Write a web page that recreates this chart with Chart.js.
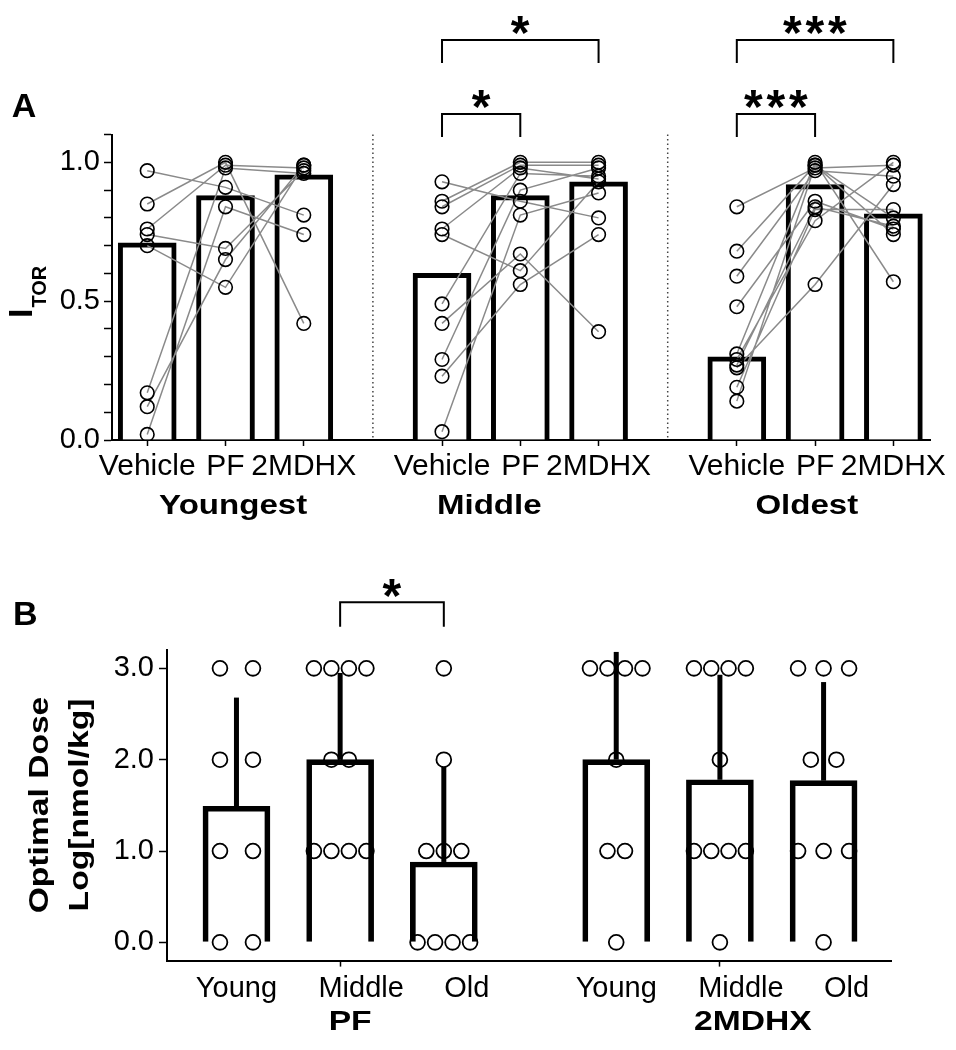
<!DOCTYPE html>
<html>
<head>
    <meta charset="UTF-8">
    <title>ITOR and optimal dose</title>
    <script src="https://cdn.jsdelivr.net/npm/chart.js"></script>
    <style>
        body { margin: 0; background: #fff; }
        #wrap { position: relative; width: 956px; height: 1050px; }
        #wrap canvas { position: absolute; left: 0; }
        #chartA { top: 0; }
        #chartB { top: 560px; }
    </style>
</head>
<body>
<div id="wrap">
    <canvas id="chartA" width="956" height="560"></canvas>
    <canvas id="chartB" width="956" height="490"></canvas>
</div>
<script>
    const FONT = '"Liberation Sans", Arial, Helvetica, sans-serif';

    // ---- Panel A: I_TOR per animal, medians as bars ----
    const treatments = ['Vehicle', 'PF', '2MDHX'];
    const ageGroups = ['Youngest', 'Middle', 'Oldest'];

    // one entry per animal, same index across treatments
    const youngestVehicle = [0.97, 0.85, 0.76, 0.74, 0.70, 0.17, 0.12, 0.02];
    const youngestPF      = [0.91, 1.00, 0.99, 0.69, 0.55, 0.98, 0.65, 0.84];
    const youngestMDHX    = [0.81, 0.42, 0.98, 0.97, 0.99, 0.96, 0.99, 0.74];

    const middleVehicle = [0.93, 0.86, 0.84, 0.76, 0.74, 0.49, 0.42, 0.29, 0.23, 0.03];
    const middlePF      = [0.86, 1.00, 0.99, 0.98, 0.61, 0.96, 0.67, 0.90, 0.56, 0.81];
    const middleMDHX    = [0.80, 1.00, 0.99, 0.94, 0.93, 0.95, 0.39, 0.98, 0.74, 0.89];

    const oldestVehicle = [0.84, 0.68, 0.59, 0.48, 0.31, 0.29, 0.26, 0.27, 0.19, 0.14];
    const oldestPF      = [0.98, 0.99, 0.97, 0.86, 1.00, 0.79, 0.56, 0.84, 0.83, 0.99];
    const oldestMDHX    = [0.99, 0.74, 0.95, 0.76, 0.57, 1.00, 0.92, 0.77, 0.83, 0.80];

    const youngestMedian = [0.71, 0.88, 0.955];
    const middleMedian   = [0.60, 0.88, 0.93];
    const oldestMedian   = [0.30, 0.92, 0.815];

    const itorTicks = [0, 0.1, 0.2, 0.3, 0.4, 0.5, 0.6, 0.7, 0.8, 0.9, 1.0, 1.1];
    const itorTickLabels = ['0.0', '0.5', '1.0'];

    // significance: group, from/to treatment, number of stars
    const sigA = [
        { group: 1, from: 0, to: 1, stars: 1 },
        { group: 1, from: 0, to: 2, stars: 1 },
        { group: 2, from: 0, to: 1, stars: 3 },
        { group: 2, from: 0, to: 2, stars: 3 }
    ];

    // ---- Panel B: optimal dose (log nmol/kg) ----
    const ages = ['Young', 'Middle', 'Old'];
    const drugs = ['PF', '2MDHX'];

    const pfYoung  = [0, 0, 1, 1, 2, 2, 3, 3];
    const pfMiddle = [1, 1, 1, 1, 2, 2, 3, 3, 3, 3];
    const pfOld    = [0, 0, 0, 0, 1, 1, 1, 2, 3];
    const mdhxYoung  = [0, 1, 1, 2, 3, 3, 3, 3];
    const mdhxMiddle = [0, 1, 1, 1, 1, 2, 3, 3, 3, 3];
    const mdhxOld    = [0, 1, 1, 1, 2, 2, 3, 3, 3];

    const pfMean   = [1.49, 2.00, 0.88];
    const pfSD     = [1.19, 0.95, 1.04];
    const mdhxMean = [2.00, 1.78, 1.77];
    const mdhxSD   = [1.18, 1.15, 1.08];

    const doseTicks = [0, 1, 2, 3];

    const sigB = [{ group: 0, from: 1, to: 2, stars: 1 }];

    // ---- layout ----
    const A_STEP = 3.766;   // x units between age groups in A
    const B_STEP = 3.663;   // x units between drugs in B
    const posA = (g, t) => g * A_STEP + t;
    const posB = (g, a) => g * B_STEP + a;

    const B_LEFT = 167, B_RIGHT = 891.7, B_XMIN = -0.67, B_XMAX = 6.32;
    const pxPerUnitB = (B_RIGHT - B_LEFT) / (B_XMAX - B_XMIN);
    const swarmGapB = [[33, 17.5, 17.5], [17.5, 17.3, 25.5]];

    // ---- helpers ----
    function drawText(ctx, str, x, y, size, bold, align, stretch, rot) {
        ctx.save();
        ctx.translate(x, y);
        if (rot) ctx.rotate(rot);
        ctx.scale(stretch || 1, 1);
        ctx.font = (bold ? 'bold ' : '') + size + 'px ' + FONT;
        ctx.fillStyle = '#000';
        ctx.textAlign = align || 'center';
        ctx.textBaseline = 'alphabetic';
        ctx.fillText(str, 0, 0);
        ctx.restore();
    }

    function drawStars(ctx, n, cx, cy) {
        ctx.save();
        ctx.font = 'bold 48px ' + FONT;
        ctx.fillStyle = '#000';
        ctx.textAlign = 'left';
        ctx.textBaseline = 'alphabetic';
        const m = ctx.measureText('*');
        const dx = (m.actualBoundingBoxRight - m.actualBoundingBoxLeft) / 2;
        const dy = (m.actualBoundingBoxAscent - m.actualBoundingBoxDescent) / 2;
        for (let i = 0; i < n; i++) {
            const sx = cx + (i - (n - 1) / 2) * 22.5;
            ctx.fillText('*', sx - dx, cy + dy);
        }
        ctx.restore();
    }

    function drawBracket(ctx, x1, x2, yTop, yLeg) {
        ctx.save();
        ctx.strokeStyle = '#000';
        ctx.lineWidth = 2;
        ctx.beginPath();
        ctx.moveTo(x1, yLeg);
        ctx.lineTo(x1, yTop);
        ctx.lineTo(x2, yTop);
        ctx.lineTo(x2, yLeg);
        ctx.stroke();
        ctx.restore();
    }

    function swarm(values, center, gapPx) {
        const counts = {}, seen = {};
        values.forEach(v => counts[v] = (counts[v] || 0) + 1);
        return values.map(v => {
            const k = seen[v] = (seen[v] || 0) + 1;
            const off = (k - 1 - (counts[v] - 1) / 2) * gapPx / pxPerUnitB;
            return { x: center + off, y: v };
        });
    }

    // ---- build panel A data ----
    const groupsA = [
        [youngestVehicle, youngestPF, youngestMDHX],
        [middleVehicle, middlePF, middleMDHX],
        [oldestVehicle, oldestPF, oldestMDHX]
    ];
    const mediansA = [youngestMedian, middleMedian, oldestMedian];
    const barsA = [], linesA = [], pointsA = [], tickPosA = [];
    groupsA.forEach((grp, g) => {
        mediansA[g].forEach((m, t) => {
            barsA.push({ x: posA(g, t), y: m });
            tickPosA.push(posA(g, t));
        });
        grp[0].forEach((_, s) => {
            grp.forEach((vals, t) => {
                linesA.push({ x: posA(g, t), y: vals[s] });
                pointsA.push({ x: posA(g, t), y: vals[s] });
            });
            linesA.push({ x: posA(g, 2) + 0.5, y: null });
        });
    });

    const panelA = {
        id: 'panelA',
        afterDraw(chart) {
            const { ctx, scales: { x, y } } = chart;
            // dotted separators between age groups
            ctx.save();
            ctx.strokeStyle = '#444';
            ctx.lineWidth = 1.5;
            ctx.setLineDash([1.5, 3]);
            [0, 1].forEach(g => {
                const px = x.getPixelForValue((posA(g, 2) + posA(g + 1, 0)) / 2);
                ctx.beginPath();
                ctx.moveTo(px, y.top);
                ctx.lineTo(px, y.bottom);
                ctx.stroke();
            });
            ctx.restore();

            // age group labels
            const labelShift = [7.6, -31, -8.3];
            ageGroups.forEach((name, g) => {
                drawText(ctx, name, x.getPixelForValue(posA(g, 1)) + labelShift[g], 514, 28, true, 'center', 1.18);
            });

            // significance brackets
            sigA.forEach(s => {
                const x1 = x.getPixelForValue(posA(s.group, s.from));
                const x2 = x.getPixelForValue(posA(s.group, s.to));
                const high = s.to - s.from > 1;
                const yTop = high ? 40 : 114;
                drawBracket(ctx, x1, x2, yTop, yTop + 23);
                drawStars(ctx, s.stars, (x1 + x2) / 2, yTop - 15);
            });

            // axis title I_TOR
            ctx.save();
            ctx.translate(32, 318);
            ctx.rotate(-Math.PI / 2);
            ctx.fillStyle = '#000';
            ctx.textBaseline = 'alphabetic';
            ctx.textAlign = 'left';
            ctx.font = 'bold 34px ' + FONT;
            ctx.fillText('I', 0, 0);
            const wI = ctx.measureText('I').width;
            ctx.font = 'bold 20px ' + FONT;
            ctx.fillText('TOR', wI + 1, 14);
            ctx.restore();

            drawText(ctx, 'A', 11.7, 117.3, 34, true, 'left');
        }
    };

    new Chart(document.getElementById('chartA'), {
        type: 'bar',
        data: {
            datasets: [
                {
                    type: 'bar',
                    data: barsA,
                    backgroundColor: '#fff',
                    borderColor: '#000',
                    borderWidth: 5,
                    borderSkipped: 'start',
                    barThickness: 58,
                    order: 3
                },
                {
                    type: 'line',
                    data: linesA,
                    borderColor: '#8a8a8a',
                    borderWidth: 1.5,
                    pointRadius: 0,
                    spanGaps: false,
                    tension: 0,
                    order: 2
                },
                {
                    type: 'scatter',
                    data: pointsA,
                    pointRadius: 6.8,
                    pointBorderWidth: 1.6,
                    pointBorderColor: '#000',
                    pointBackgroundColor: 'rgba(0,0,0,0)',
                    order: 1
                }
            ]
        },
        options: {
            responsive: false,
            animation: false,
            devicePixelRatio: 1,
            events: [],
            layout: { padding: { left: 0, top: 134.6, right: 26, bottom: 0 } },
            plugins: { legend: { display: false }, tooltip: { enabled: false } },
            scales: {
                x: {
                    type: 'linear',
                    min: -0.45,
                    max: 10,
                    offset: false,
                    grid: { drawOnChartArea: false, drawTicks: true, tickLength: 6, tickWidth: 1.5, tickColor: '#000', offset: false },
                    border: { display: true, color: '#000', width: 2 },
                    afterBuildTicks: s => { s.ticks = tickPosA.map(v => ({ value: v })); },
                    afterFit: s => { s.height = 120; },
                    ticks: {
                        autoSkip: false, maxRotation: 0, minRotation: 0, padding: 3, color: '#000',
                        font: { family: FONT, size: 30 },
                        callback: (v, i) => treatments[i % 3]
                    }
                },
                y: {
                    min: 0,
                    max: 1.1,
                    grid: { drawOnChartArea: false, drawTicks: true, tickLength: 8, tickWidth: 1.5, tickColor: '#000' },
                    border: { display: true, color: '#000', width: 2 },
                    afterBuildTicks: s => { s.ticks = itorTicks.map(v => ({ value: v })); },
                    afterFit: s => { s.width = 112; },
                    ticks: {
                        autoSkip: false, padding: 4, color: '#000',
                        font: { family: FONT, size: 29 },
                        callback: v => {
                            const i = itorTickLabels.indexOf(v.toFixed(1));
                            return Math.abs(v * 2 - Math.round(v * 2)) < 1e-6 && i >= 0 ? itorTickLabels[i] : '';
                        }
                    }
                }
            }
        },
        plugins: [panelA]
    });

    // ---- build panel B data ----
    const pointsByDrug = [[pfYoung, pfMiddle, pfOld], [mdhxYoung, mdhxMiddle, mdhxOld]];
    const meansB = [pfMean, mdhxMean];
    const sdB = [pfSD, mdhxSD];
    const barsB = [], pointsB = [];
    pointsByDrug.forEach((grp, g) => {
        grp.forEach((vals, a) => {
            barsB.push({ x: posB(g, a), y: meansB[g][a] });
            swarm(vals, posB(g, a), swarmGapB[g][a]).forEach(p => pointsB.push(p));
        });
    });

    const panelB = {
        id: 'panelB',
        afterDatasetsDraw(chart) {
            const { ctx, scales: { x, y } } = chart;
            ctx.save();
            ctx.strokeStyle = '#000';
            ctx.lineWidth = 5;
            meansB.forEach((means, g) => means.forEach((m, a) => {
                const px = x.getPixelForValue(posB(g, a));
                ctx.beginPath();
                ctx.moveTo(px, y.getPixelForValue(m));
                ctx.lineTo(px, y.getPixelForValue(m + sdB[g][a]));
                ctx.stroke();
            }));
            ctx.restore();
        },
        afterDraw(chart) {
            const { ctx, scales: { x, y } } = chart;
            const ageShift = [0, 21, 23];
            const drugShift = [10, 33];
            drugs.forEach((d, g) => {
                ages.forEach((a, i) => {
                    drawText(ctx, a, x.getPixelForValue(posB(g, i)) + ageShift[i], 437, 29, false, 'center', 1.0);
                });
                drawText(ctx, d, x.getPixelForValue(posB(g, 1)) + drugShift[g], 470, 28, true, 'center', 1.2);
            });

            sigB.forEach(s => {
                const x1 = x.getPixelForValue(posB(s.group, s.from));
                const x2 = x.getPixelForValue(posB(s.group, s.to));
                drawBracket(ctx, x1, x2, 42.3, 66.7);
                drawStars(ctx, s.stars, (x1 + x2) / 2, 28);
            });

            // axis title, two lines
            const cy = 245;
            drawText(ctx, 'Optimal Dose', 48, cy, 28, true, 'center', 1.2, -Math.PI / 2);
            drawText(ctx, 'Log[nmol/kg]', 88, cy, 28, true, 'center', 1.2, -Math.PI / 2);

            drawText(ctx, 'B', 13, 65, 34, true, 'left');
        }
    };

    new Chart(document.getElementById('chartB'), {
        type: 'bar',
        data: {
            datasets: [
                {
                    type: 'scatter',
                    data: pointsB,
                    pointRadius: 7.4,
                    pointBorderWidth: 1.8,
                    pointBorderColor: '#000',
                    pointBackgroundColor: 'rgba(0,0,0,0)',
                    order: 3
                },
                {
                    type: 'bar',
                    data: barsB,
                    backgroundColor: 'rgba(0,0,0,0)',
                    borderColor: '#000',
                    borderWidth: 5,
                    borderSkipped: 'start',
                    barThickness: 67,
                    order: 2
                }
            ]
        },
        options: {
            responsive: false,
            animation: false,
            devicePixelRatio: 1,
            events: [],
            layout: { padding: { left: 0, top: 90.1, right: 956 - B_RIGHT, bottom: 0 } },
            plugins: { legend: { display: false }, tooltip: { enabled: false } },
            scales: {
                x: {
                    type: 'linear',
                    min: B_XMIN,
                    max: B_XMAX,
                    offset: false,
                    grid: { drawOnChartArea: false, drawTicks: true, tickLength: 6, tickWidth: 1.5, tickColor: '#000', offset: false },
                    border: { display: true, color: '#000', width: 2 },
                    afterBuildTicks: s => { s.ticks = [posB(0, 1), posB(1, 1)].map(v => ({ value: v })); },
                    afterFit: s => { s.height = 89.4; },
                    ticks: { display: false }
                },
                y: {
                    min: -0.2,
                    max: 3.2,
                    grid: { drawOnChartArea: false, drawTicks: true, tickLength: 8, tickWidth: 1.5, tickColor: '#000' },
                    border: { display: true, color: '#000', width: 2 },
                    afterBuildTicks: s => { s.ticks = doseTicks.map(v => ({ value: v })); },
                    afterFit: s => { s.width = B_LEFT; },
                    ticks: {
                        autoSkip: false, padding: 5, color: '#000',
                        font: { family: FONT, size: 29 },
                        callback: v => v.toFixed(1)
                    }
                }
            }
        },
        plugins: [panelB]
    });
</script>
</body>
</html>
